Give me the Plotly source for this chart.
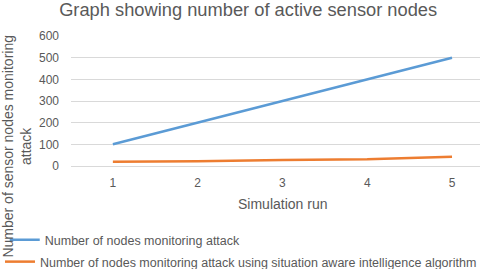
import plotly.graph_objects as go

runs = [1, 2, 3, 4, 5]
nodes_monitoring = [100, 200, 300, 400, 500]
nodes_monitoring_sa = [20, 22, 28, 31, 43]
y_ticks = [0, 100, 200, 300, 400, 500, 600]

FONT = "Liberation Sans"
GREY = "#595959"

fig = go.Figure()
fig.add_trace(go.Scatter(x=runs, y=nodes_monitoring, mode="lines",
                         name="Number of nodes monitoring attack",
                         line=dict(color="#5b9bd5", width=2.5), legend="legend"))
fig.add_trace(go.Scatter(x=runs, y=nodes_monitoring_sa, mode="lines",
                         name="Number of nodes monitoring attack using situation aware intelligence algorithm",
                         line=dict(color="#ed7d31", width=2.5), legend="legend2"))

fig.update_layout(
    width=480, height=269,
    showlegend=True,
    margin=dict(l=71, r=0, t=36, b=103),
    paper_bgcolor="white", plot_bgcolor="white",
    font=dict(family=FONT, color=GREY, size=12),
    title=dict(text="Graph showing number of active sensor nodes",
               x=0.517, xanchor="center", xref="container",
               y=1 - 10 / 269, yanchor="middle", yref="container",
               font=dict(size=18.3, color=GREY, family=FONT)),
    xaxis=dict(range=[0.506, 5.33], tickvals=runs, showgrid=False,
               showline=False, zeroline=False, ticks="",
               ticklabelstandoff=8, tickfont=dict(size=12, color=GREY)),
    yaxis=dict(range=[0, 600], tickvals=y_ticks, showgrid=True,
               gridcolor="#d9d9d9", gridwidth=1, zeroline=True,
               zerolinecolor="#d9d9d9", zerolinewidth=1, showline=False,
               ticks="", ticklabelstandoff=11, tickfont=dict(size=12, color=GREY)),
    legend=dict(x=-0.162, y=1 - 225 / 269, xanchor="left", yanchor="top",
                yref="container",
                bgcolor="rgba(0,0,0,0)", font=dict(size=12.5, color=GREY),
                itemwidth=30),
    legend2=dict(x=-0.162, y=1 - 247 / 269, xanchor="left", yanchor="top",
                 yref="container",
                 bgcolor="rgba(0,0,0,0)", font=dict(size=12.5, color=GREY),
                 itemwidth=30),
    annotations=[
        dict(text="Simulation run", xref="paper", yref="paper",
             x=0.518, y=-0.29, xanchor="center", yanchor="middle",
             showarrow=False, font=dict(size=14, color=GREY)),
        dict(text="Number of sensor nodes monitoring<br>attack", xref="paper", yref="paper",
             x=-0.133, y=0.154, xanchor="center", yanchor="middle", textangle=-90,
             showarrow=False, font=dict(size=14, color=GREY)),
    ],
)

fig.write_html("out.html",
               config={"displayModeBar": False},
               post_script="document.body.style.margin='0';document.body.style.overflow='hidden';")
